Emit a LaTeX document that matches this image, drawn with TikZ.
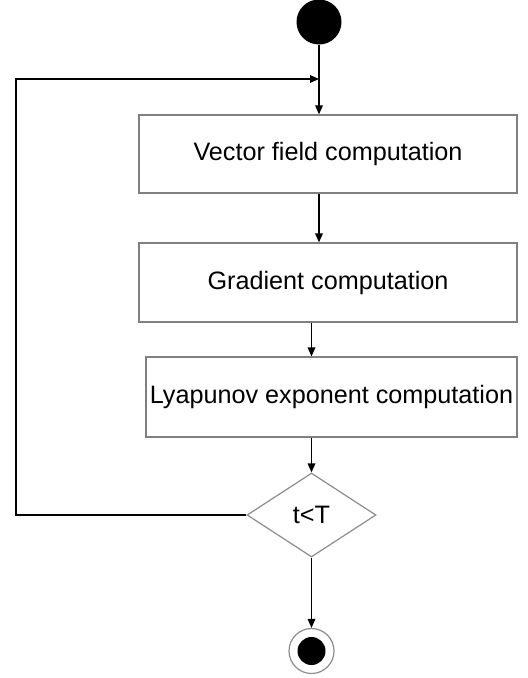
\documentclass[tikz,border=0pt]{standalone}
\usepackage{fontspec}
\setmainfont{Liberation Sans}
\usetikzlibrary{shapes.geometric,arrows.meta}
\begin{document}
\begin{tikzpicture}[x=0.5pt,y=-0.5pt,
  flow/.style={line width=0.7pt,-{Triangle[length=4.5pt,width=3.8pt]}},
  stepbox/.style={draw=black!50,line width=0.6pt,rectangle,inner sep=0pt,font=\fontsize{12.6pt}{15pt}\selectfont},
  decision/.style={draw=black!45,line width=0.6pt,diamond,inner sep=0pt,minimum width=64.5pt,minimum height=42pt,font=\fontsize{12.6pt}{15pt}\selectfont}]
\useasboundingbox (0,0) rectangle (527,678);
\node[circle,fill=black,minimum size=22.5pt,inner sep=0pt] (start) at (319,22) {};
\coordinate (m) at (319,79);
\node[stepbox,minimum width=189pt,minimum height=39pt] (b1) at (328,154) {Vector field computation};
\node[stepbox,minimum width=189pt,minimum height=39.5pt] (b2) at (328,282.5) {Gradient computation};
\node[stepbox,minimum width=185.5pt,minimum height=40pt] (b3) at (331.5,397) {Lyapunov exponent computation};
\node[decision] (dec) at (311.5,515) {t<T};
\node[circle,draw=black!45,line width=0.6pt,minimum size=22.5pt,inner sep=0pt] (end) at (311.5,651) {};
\fill (end.center) circle (7pt);
\coordinate (lc) at (16,515);
\draw[flow] (start.south) -- (start.south |- b1.north);
\draw[flow] (b1.south -| start) -- (b2.north -| start);
\draw[flow] (b2.south -| dec) -- (b3.north -| dec);
\draw[flow] (b3.south -| dec) -- (dec.north);
\draw[flow] (dec.south) -- (end.north);
\draw[flow] (dec.west) -- (lc) |- (m);
\end{tikzpicture}
\end{document}
